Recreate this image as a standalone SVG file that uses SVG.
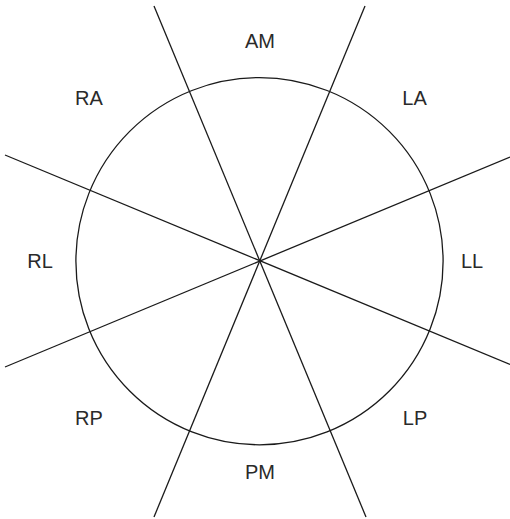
<svg xmlns="http://www.w3.org/2000/svg" width="510" height="519" viewBox="0 0 510 519">
<style>
.ln{stroke:#1a1a1a;stroke-width:1.3;fill:none}
.lb{font-family:"Liberation Sans",Arial,sans-serif;font-size:20px;fill:#2a2a2a;text-anchor:middle}
</style>
<rect width="510" height="519" fill="#fff"/>
<g id="connectors">
<circle id="circle" class="ln" cx="259.5" cy="261.2" r="183.6"/>
<line class="ln" x1="154" y1="6" x2="366" y2="517"/>
<line class="ln" x1="365" y1="6" x2="154" y2="517"/>
<line class="ln" x1="5" y1="155" x2="510" y2="364.5"/>
<line class="ln" x1="5" y1="367" x2="510" y2="157"/>
</g>
<g id="AM"><text class="lb" x="260" y="48">AM</text></g>
<g id="LA"><text class="lb" x="414.5" y="105">LA</text></g>
<g id="RA"><text class="lb" x="89" y="105">RA</text></g>
<g id="RL"><text class="lb" x="40" y="268">RL</text></g>
<g id="LL"><text class="lb" x="472" y="268">LL</text></g>
<g id="RP"><text class="lb" x="89" y="425">RP</text></g>
<g id="LP"><text class="lb" x="415" y="425">LP</text></g>
<g id="PM"><text class="lb" x="260" y="479">PM</text></g>
</svg>
